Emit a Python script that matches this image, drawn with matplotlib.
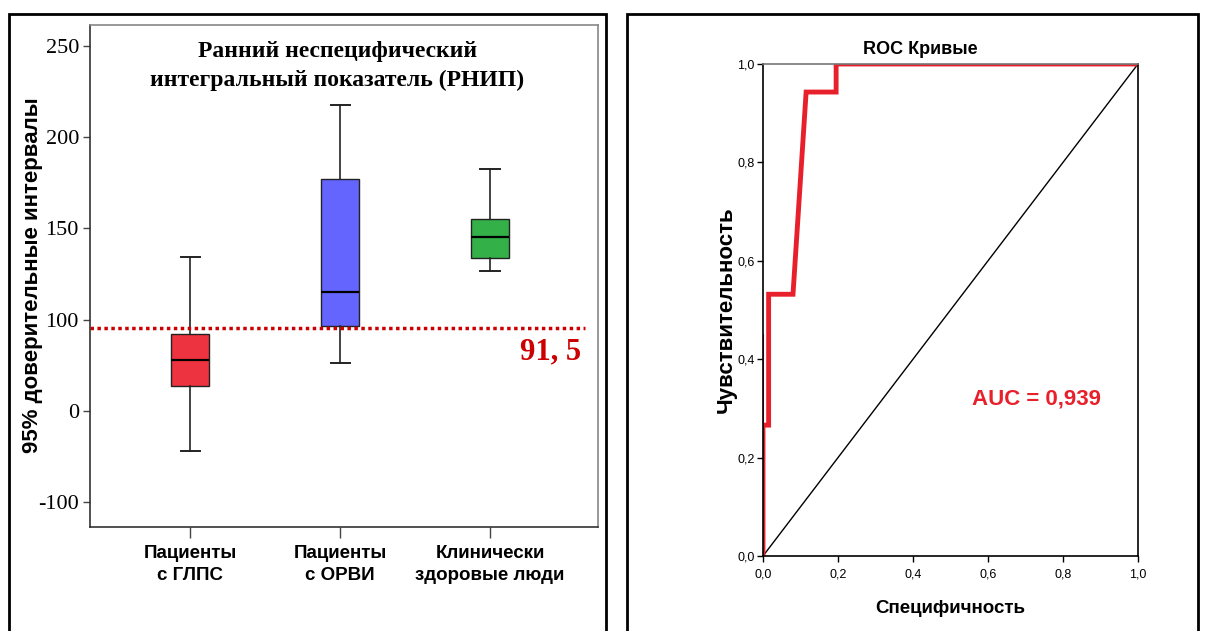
import matplotlib.pyplot as plt
from matplotlib.patches import Rectangle

# --- данные: левая панель (РНИП) ---
groups = ["Пациенты\nс ГЛПС", "Пациенты\nс ОРВИ", "Клинически\nздоровые люди"]
whis_lo = [28.0, 76.2, 126.6]
q1 = [63.6, 96.5, 133.8]
med = [77.9, 115.1, 145.3]
q3 = [92.1, 177.1, 155.2]
whis_hi = [134.3, 217.7, 182.6]
box_colors = ["#ee3340", "#6464ff", "#33b048"]
ytick_pos = [0, 50, 100, 150, 200, 250]
ytick_lab = ["-100", "0", "100", "150", "200", "250"]
cutoff = 95.4
cutoff_label = "91, 5"

# --- данные: правая панель (ROC) ---
fpr = [0.0, 0.0, 0.015, 0.015, 0.08, 0.115, 0.195, 0.195, 1.0]
tpr = [0.0, 0.266, 0.266, 0.532, 0.532, 0.943, 0.943, 1.0, 1.0]
roc_ticks = [0.0, 0.2, 0.4, 0.6, 0.8, 1.0]
auc_text = "AUC = 0,939"

serif = "Liberation Serif"
sans = "Liberation Sans"

fig = plt.figure(figsize=(12.06, 6.31), dpi=100)

# рамки панелей
fig.patches.append(Rectangle((9 / 1206, -0.05), 597 / 1206, 1.05 - 14 / 631,
                             transform=fig.transFigure, fill=False, lw=2, ec="black"))
fig.patches.append(Rectangle((627 / 1206, -0.05), 571 / 1206, 1.05 - 14 / 631,
                             transform=fig.transFigure, fill=False, lw=2, ec="black"))

# ---------------- левая панель ----------------
ax0 = fig.add_axes([90 / 1206, 1 - 527 / 631, 508 / 1206, 502 / 631])
stats = []
for i in range(len(groups)):
    stats.append(dict(med=med[i], q1=q1[i], q3=q3[i],
                      whislo=whis_lo[i], whishi=whis_hi[i], fliers=[]))
bp = ax0.bxp(stats, positions=[1, 2, 3], widths=0.253, capwidths=0.127,
             patch_artist=True, showfliers=False,
             medianprops=dict(color="black", lw=1.6),
             whiskerprops=dict(color="#222222", lw=1.2),
             capprops=dict(color="#222222", lw=1.4),
             boxprops=dict(edgecolor="#222222", lw=1))
for patch, c in zip(bp["boxes"], box_colors):
    patch.set_facecolor(c)

ax0.axhline(cutoff, xmin=0, xmax=0.975, color="#cc0000", ls=(0, (1, 1)), lw=2.5)
ax0.text(3.61, cutoff - 5, cutoff_label, color="#cc0000", ha="right", va="top",
         fontsize=22, fontweight="bold", family=serif)

ax0.set_xlim(0.333, 3.72)
ax0.set_ylim(-13.7, 261.5)
ax0.set_yticks(ytick_pos)
ax0.set_yticklabels(ytick_lab, family=serif, fontsize=16)
ax0.set_xticks([1, 2, 3])
ax0.set_xticklabels(groups, family=sans, fontsize=13.5, fontweight="bold",
                    linespacing=1.4)
ax0.tick_params(axis="both", direction="out", length=5, width=1, color="#444444")
ax0.tick_params(axis="y", pad=3)
ax0.tick_params(axis="x", length=8, pad=5)
for s in ax0.spines.values():
    s.set_color("#888888")
    s.set_linewidth(1.2)
ax0.spines["left"].set_color("#333333")
ax0.spines["bottom"].set_color("#333333")
ax0.set_ylabel("95% доверительные интервалы", family=sans, fontsize=16,
               fontweight="bold")
ax0.yaxis.set_label_coords(-0.093, 0.502)
ax0.text(0.487, 0.918, "Ранний неспецифический\nинтегральный показатель (РНИП)",
         transform=ax0.transAxes, ha="center", va="center", family=serif,
         fontsize=17, fontweight="bold", linespacing=1.5)

# ---------------- правая панель ----------------
ax1 = fig.add_axes([763 / 1206, 1 - 556 / 631, 375 / 1206, 492 / 631])
ax1.plot([0, 1], [0, 1], color="black", lw=1)
ax1.plot([fpr[0], fpr[0]], [0.26, 0.45], color="#e8101c", lw=1.5)
ax1.plot(fpr, tpr, color="#e8202c", lw=3.5, solid_joinstyle="miter")
ax1.set_xlim(0, 1)
ax1.set_ylim(0, 1)
ax1.set_xticks(roc_ticks)
ax1.set_yticks(roc_ticks)
lab = [f"{t:.1f}".replace(".", ",") for t in roc_ticks]
ax1.set_xticklabels(lab, family=sans, fontsize=9)
ax1.set_yticklabels(lab, family=sans, fontsize=9)
ax1.tick_params(axis="both", direction="out", length=4, width=1)
ax1.tick_params(axis="x", pad=5)
ax1.tick_params(axis="y", pad=2)
for s in ax1.spines.values():
    s.set_linewidth(1.2)
ax1.spines["top"].set_color("#777777")
ax1.text(0.42, 1.03, "ROC Кривые", transform=ax1.transAxes, ha="center",
         va="center", family=sans, fontsize=13, fontweight="bold")
ax1.set_xlabel("Специфичность", family=sans, fontsize=13.5, fontweight="bold",
               labelpad=14)
ax1.set_ylabel("Чувствительность", family=sans, fontsize=16, fontweight="bold")
ax1.yaxis.set_label_coords(-0.07, 0.5)
ax1.text(0.73, 0.32, auc_text, transform=ax1.transAxes, ha="center", va="center",
         color="#e8202c", family=sans, fontsize=16, fontweight="bold")

fig.savefig("out.png", dpi=100)
